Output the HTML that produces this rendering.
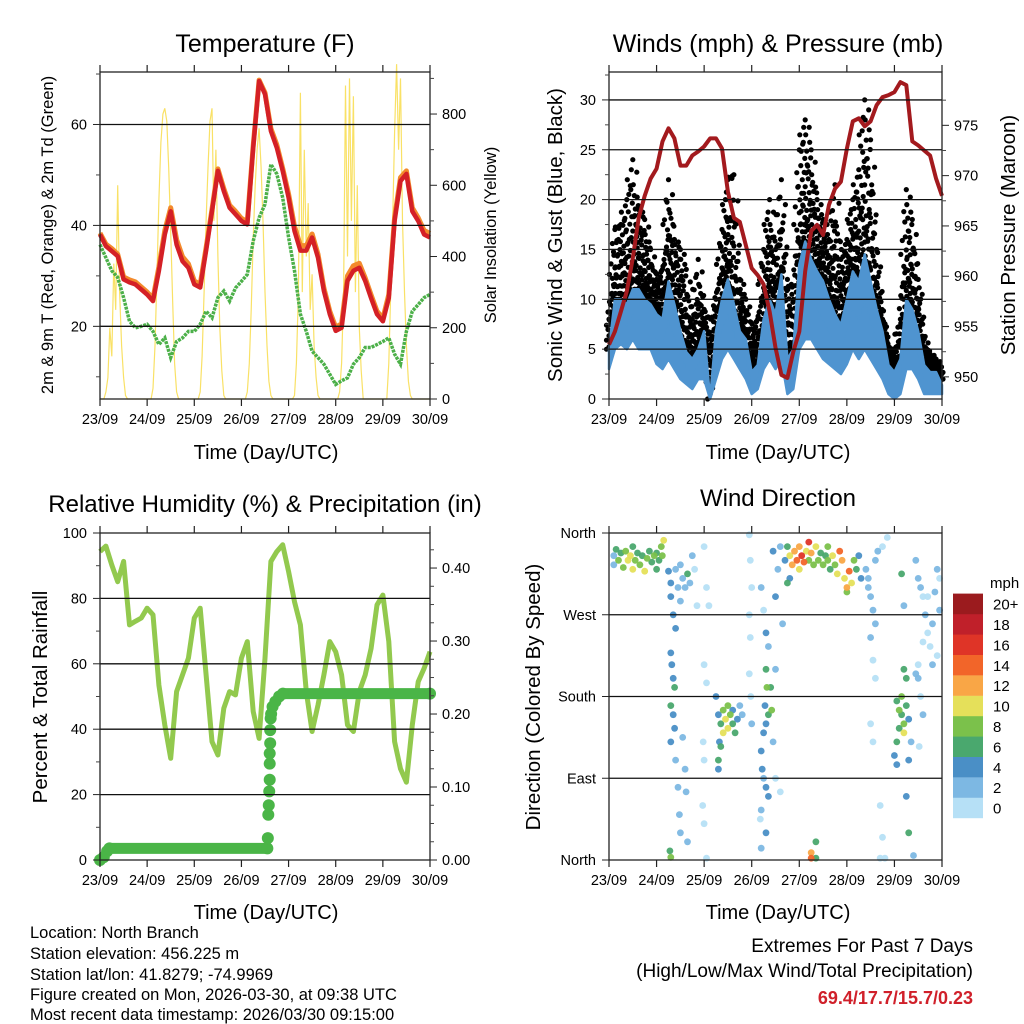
<!DOCTYPE html>
<html><head><meta charset="utf-8"><style>
body{margin:0;background:#fff;}
svg{display:block;font-family:"Liberation Sans",Arial,sans-serif;}
</style></head><body>
<svg id="svg" width="1024" height="1024" viewBox="0 0 1024 1024" xmlns="http://www.w3.org/2000/svg">
<rect width="1024" height="1024" fill="#fff"/>
<g id="layer"></g>
<text x="265" y="52" font-size="25" text-anchor="middle">Temperature (F)</text>
<text x="778" y="52" font-size="25" text-anchor="middle">Winds (mph) &amp; Pressure (mb)</text>
<text x="265" y="512" font-size="24" text-anchor="middle">Relative Humidity (%) &amp; Precipitation (in)</text>
<text x="778" y="506" font-size="24" text-anchor="middle">Wind Direction</text>
<text x="266" y="459" font-size="20" text-anchor="middle">Time (Day/UTC)</text>
<text x="778" y="459" font-size="20" text-anchor="middle">Time (Day/UTC)</text>
<text x="266" y="919" font-size="20" text-anchor="middle">Time (Day/UTC)</text>
<text x="778" y="919" font-size="20" text-anchor="middle">Time (Day/UTC)</text>
<text transform="translate(53,235) rotate(-90)" font-size="16.5" text-anchor="middle">2m &amp; 9m T (Red, Orange) &amp; 2m Td (Green)</text>
<text transform="translate(496,235) rotate(-90)" font-size="16.5" text-anchor="middle">Solar Insolation (Yellow)</text>
<text transform="translate(562,235) rotate(-90)" font-size="20.5" text-anchor="middle">Sonic Wind &amp; Gust (Blue, Black)</text>
<text transform="translate(1015,235) rotate(-90)" font-size="20.5" text-anchor="middle">Station Pressure (Maroon)</text>
<text transform="translate(47,697) rotate(-90)" font-size="20.5" text-anchor="middle">Percent &amp; Total Rainfall</text>
<text transform="translate(540,697) rotate(-90)" font-size="20.5" text-anchor="middle">Direction (Colored By Speed)</text>
<g font-size="16.5">
<text x="30" y="938">Location: North Branch</text>
<text x="30" y="959">Station elevation: 456.225 m</text>
<text x="30" y="980">Station lat/lon: 41.8279; -74.9969</text>
<text x="30" y="1000">Figure created on Mon, 2026-03-30, at 09:38 UTC</text>
<text x="30" y="1020">Most recent data timestamp: 2026/03/30 09:15:00</text>
</g>
<g font-size="19" text-anchor="end">
<text x="973" y="952">Extremes For Past 7 Days</text>
<text x="973" y="977">(High/Low/Max Wind/Total Precipitation)</text>
<text x="973" y="1004" fill="#d0202a" font-weight="bold" font-size="18">69.4/17.7/15.7/0.23</text>
</g>
</svg>
<script>
// ---- time axis ----
const dayLabels = ["23/09","24/09","25/09","26/09","27/09","28/09","29/09","30/09"];
const stepDays = 0.125; // 3-hour samples starting 23/09 00 UTC
// ---- temperature panel ----
const tempRed = [38.2,35.9,34.9,33.9,29.3,28.7,28.3,27.3,26.3,25, 31,38.2,42.8,36.2,32.9,31.6,28.3,27.7,35,42.8, 50.8,46.8,43.5,42.2,40.9,40.2,55.4,68.6,66,58.7, 55.4,50.8,45.5,38.9,35,35,37.6,33.6,27,22.4, 19.1,19.7,29,31,31.6,29,25.6,22.4,21,25.6, 40.9,48.8,50.2,42.8,40.9,38.2,37.6];
const tempOrange = [38.5,36.3,35.4,34.3,29.8,29.2,28.8,27.8,26.8,25.5, 31.8,39,43.5,37.2,33.8,32.4,29,28.3,35.6,43.2, 51.2,47.3,44,42.8,41.4,40.7,55.8,68.8,66.3,59.2, 56,51.3,46.2,39.8,36,36,38.3,34.3,27.6,23, 19.8,20.5,30,32,32.5,29.6,26.2,23,21.6,26.3, 41.6,49.5,50.8,43.5,41.5,39,38.4];
const dewPoint = [36.2,33.6,31,29.7,25.7,21,19.7,20,20.4,19, 16.4,17.7,13.8,17,17.7,19,19,20.4,23,21.7, 25.7,27,25,27.6,28.9,30.3,36.9,41.5,44.2,52.1, 50.2,45.5,37.6,31,22.4,19,15.1,13.8,12.5,10.5, 8.5,9.2,9.8,12.5,13.8,15.8,15.8,16.4,17,17.7, 14.5,12.5,19,23,24.3,25.7,26.3];
const solarDay23 = [0,0,0,20,60,200,120,380,250,600,300,150,60,10,0,0,0,0,0,0,0,0,0,0];
const solarDay24 = [0,0,0,30,150,350,560,720,800,816,780,650,470,270,100,20,0,0,0,0,0,0,0,0];
const solarDay25 = [0,0,0,20,120,300,500,650,780,816,500,700,400,200,80,10,0,0,0,0,0,0,0,0];
const solarDay26 = [0,0,0,20,100,250,450,600,700,760,650,500,300,150,50,10,0,0,0,0,0,0,0,0];
const solarDay27 = [0,0,0,10,100,300,860,300,700,400,550,250,350,150,60,10,0,0,0,0,0,0,0,0];
const solarDay28 = [0,0,20,100,300,880,400,900,500,850,300,600,200,80,0,0,0,0,0,0,0,0,0,0];
const solarDay29 = [0,0,0,100,300,500,750,940,700,900,500,300,150,50,10,0,0,0,0,0,0,0,0,0];
const solarDay30 = [0];
// ---- wind panel ----
const windHigh = [5,10,10,9.5,11,11,10,9.5,8.5,8, 11.8,9.5,6.8,4.7,4,5,6.8,0,6.8,10, 12,9.5,6.8,6,2.7,3.4,8,10,8.5,12.5, 4,5,13.5,15.8,14,12.8,11.8,10,8.5,7.4, 10,12.8,11.8,14.5,11.8,9,6.8,3.4,2.7,4, 10,9,6.8,3.4,2.7,2.7,1.4];
const windLow = [3,5,5.5,5,6,5,5,5,3.5,3, 4,3,2,1.5,1,2,2,0,2,4, 5,4,3,2,0.5,1,3,4,3,4, 0.5,1,5,6,6,5,4,3.5,3,2.5, 3.5,5,4,5,4,3,2,0.5,0,0.5, 3,3,2,0.5,0.5,0.5,0.5];
const gustMax = [8,17,17.5,20,24,19,18,15,12,13, 22,16,15,13,8,14,9,6,10,17, 22,22.5,12,10,7,8,15,20,15,22, 12,10,25,28,25,20,18,16,21.5,14, 16,20,23,30,26,15,8,5,5,8, 21,18,12,6,4.5,4,3];
const pressure = [953.2,954.5,956.5,958.5,961.8,965.8,968,969.7,970.7,973.4, 974.7,973.7,971,971,972,972.4,972.9,973.7,973.7,972.7, 968.4,965.8,965.4,963.1,960.8,960.1,959.2,956.5,952.9,950.2, 949.9,952.5,954.5,960.5,964.5,965.1,964.1,967.1,968.7,969.4, 972.7,975.4,975.7,974.9,975.4,977,977.8,978,978.3,979.3, 979,973.4,973,972.5,972,969.7,968];
// ---- humidity panel ----
const relHum = [94.3,96,90.2,85.1,91.3,71.9,73,74,77,75, 53.5,41.3,31.1,51.5,56.6,61.7,74,77,56.6,36.2, 32.1,46.4,51.5,50.5,61.7,66.8,45.4,37.2,61.7,91.3, 94.3,96.4,88.2,79,71.9,51.5,39.3,47.4,56.6,66.8, 63.7,56.6,41.3,39.3,51.5,56.6,64.7,78,81,66.8, 36.2,27.9,23.8,41.3,54.5,58.6,63.7];
const precipTimes = [23.0,23.08,23.15,23.2,26.55,26.56,26.57,26.58,26.59,26.6,26.6,26.6,26.61,26.61,26.62,26.63,26.66,26.72,26.8,26.88,30.0];
const precipValues = [0,0.004,0.012,0.016,0.016,0.03,0.062,0.075,0.094,0.11,0.132,0.146,0.16,0.178,0.194,0.2,0.21,0.217,0.224,0.228,0.228];
// ---- wind direction panel ----
const dirTimes = [23.1,23.1,23.15,23.2,23.25,23.3,23.35,23.4,23.45,23.5,23.5,23.55,23.6,23.65,23.7,23.75,23.8,23.85,23.9,23.95,24.0,24.05,24.1,24.15,24.12,24.0,
24.25,24.3,24.3,24.35,24.4,24.45,24.5,24.55,24.6,24.65,24.7,24.75,24.8,24.85,24.5,24.4,24.3,24.32,24.35,24.38,24.3,24.35,24.38,24.3,24.4,24.45,24.48,24.5,24.28,24.3,24.55,24.6,24.62,24.65,
25.0,25.05,25.1,25.0,25.05,24.98,25.0,24.97,25.0,25.05,
25.25,25.3,25.35,25.4,25.45,25.5,25.55,25.6,25.65,25.7,25.5,25.4,25.35,25.3,25.32,25.6,25.75,25.8,25.3,
25.95,25.97,26.0,25.95,25.97,25.95,25.98,26.0,
26.2,26.25,26.3,26.35,26.3,26.32,26.28,26.35,26.3,26.25,26.2,26.22,26.25,26.3,26.35,26.2,26.18,26.3,26.2,26.4,26.42,26.45,26.5,26.5,26.6,26.55,26.5,26.45,26.6,26.65,
26.7,26.75,26.8,26.85,26.9,26.95,27.0,27.05,27.1,27.15,27.2,27.25,27.3,27.35,27.4,27.45,27.5,27.55,27.6,27.65,27.7,27.75,27.8,27.85,27.9,27.95,28.0,28.05,28.1,28.0,28.15,28.2,28.25,28.3,27.0,27.2,27.6,26.75,26.8,27.35,27.25,27.25,27.35,
28.4,28.45,28.5,28.55,28.6,28.5,28.45,28.6,28.65,28.55,28.6,28.5,28.55,28.75,28.7,28.75,28.7,28.8,28.85,
29.05,29.1,29.15,29.2,29.25,29.1,29.2,29.15,29.05,29.0,29.05,29.25,29.3,29.35,29.3,29.2,29.25,29.3,29.4,29.15,29.2,
29.45,29.5,29.55,29.6,29.65,29.7,29.75,29.8,29.85,29.9,29.95,29.6,29.7,29.8,29.9,29.95,29.5,29.55,29.6,29.45,29.52,29.5];
const dirValues = [335,325,342,330,338,322,340,330,335,320,345,330,338,325,335,318,332,340,328,335,338,330,345,352,335,320,
318,305,290,270,320,300,325,310,300,315,305,335,320,280,285,255,228,215,200,190,170,160,145,130,110,80,50,30,10,3,135,100,75,20,
345,300,280,215,195,130,110,60,40,2,
180,160,150,165,155,145,160,150,140,155,170,140,125,110,130,165,170,160,100,
358,330,300,270,245,205,180,150,
300,275,250,235,210,190,170,160,150,140,120,100,90,80,70,55,45,30,13,190,165,130,90,210,345,320,290,340,75,260,
330,345,335,325,340,330,345,335,328,340,350,338,325,345,330,338,325,335,330,320,335,325,315,340,330,310,300,318,305,295,330,320,335,310,320,330,345,305,310,20,2,8,2,
320,300,290,275,260,245,310,330,340,220,200,150,130,345,60,25,2,2,355,
175,165,160,150,170,145,140,180,130,115,105,200,155,130,110,210,70,30,5,315,280,
330,310,300,290,270,250,235,215,295,320,310,240,290,260,225,275,200,180,160,205,125,215];
const dirSpeeds = [3,3,7,8,7,9,8,10,11,10,7,8,7,8,7,10,8,7,6,8,7,6,9,11,8,7,
4,4,4,4,3,2,2,3,2,6,2,2,1,1,2,4,4,4,4,6,6,4,4,4,2,2,2,2,6,8,2,2,2,2,
1,1,1,1,1,0,1,1,0,0,
4,5,6,9,10,10,8,7,6,5,8,11,6,7,4,4,2,2,4,
1,1,1,1,1,1,1,2,
2,1,4,2,6,8,4,6,4,4,4,4,2,4,4,2,1,4,2,6,8,3,1,2,2,3,4,4,1,2,
4,6,10,12,12,14,12,16,14,10,16,12,8,10,8,6,8,6,8,6,10,8,10,14,12,10,12,14,10,8,8,6,4,4,10,8,8,6,4,6,14,12,6,
2,2,2,2,2,2,3,2,2,1,1,1,1,0,1,1,0,0,1,
6,8,7,8,6,6,10,8,6,4,4,6,4,2,4,6,4,6,2,6,2,
2,2,2,1,2,1,1,2,2,2,1,1,1,2,1,2,2,1,2,3,1,1];
const speedColors = ["#b6e0f6","#7db8e3","#4a8fc6","#4aa86e","#7bc14b","#e5e05a","#f9a646","#f26529","#df3427","#c0202a","#9b1b1e"];
const speedLabels = ["0","2","4","6","8","10","12","14","16","18","20+"];

const NS="http://www.w3.org/2000/svg";
const layer=document.getElementById('layer');
function mk(tag,attrs,parent){const e=document.createElementNS(NS,tag);for(const k in attrs)e.setAttribute(k,attrs[k]);(parent||layer).appendChild(e);return e;}
function lin(d0,d1,r0,r1){return v=>r0+(v-d0)/(d1-d0)*(r1-r0);}

function frame(p,name){
  const g=mk('g',{});
  
  
  p.g=g;
  return g;
}
function drawAxes(p,leftTicks,leftMinor,leftFmt,rightTicks,rightMinor,rightFmt,grid){
  const g=p.g;
  grid.forEach(v=>{const y=p.yl(v);const l=mk('line',{x1:p.x0,x2:p.x1,y1:y,y2:y,stroke:'#111','stroke-width':1.3},g);
    
    });
  const bx=mk('rect',{x:p.x0,y:p.y0,width:p.x1-p.x0,height:p.y1-p.y0,fill:'none',stroke:'#222','stroke-width':1.3},g);
  
  
  dayLabels.forEach((lab,i)=>{const x=p.xs(23+i);
    mk('line',{x1:x,x2:x,y1:p.y1,y2:p.y1+7,stroke:'#222','stroke-width':1.2},g);
    mk('line',{x1:x,x2:x,y1:p.y0,y2:p.y0-7,stroke:'#222','stroke-width':1.2},g);
    const t=mk('text',{x:x,y:p.y1+25,'font-size':14.5,'text-anchor':'middle'},g);t.textContent=lab;
    
    });
  leftTicks.forEach((v,i)=>{const y=p.yl(v);mk('line',{x1:p.x0,x2:p.x0-7,y1:y,y2:y,stroke:'#222'},g);
    const t=mk('text',{x:p.x0-13,y:y+5,'font-size':14.5,'text-anchor':'end'},g);t.textContent=leftFmt[i];
    
    });
  leftMinor.forEach(v=>{const y=p.yl(v);mk('line',{x1:p.x0,x2:p.x0-4,y1:y,y2:y,stroke:'#444'},g);});
  if(rightTicks){
    rightTicks.forEach((v,i)=>{const y=p.yr(v);mk('line',{x1:p.x1,x2:p.x1+7,y1:y,y2:y,stroke:'#222'},g);
      const t=mk('text',{x:p.x1+12,y:y+5,'font-size':14.5},g);t.textContent=rightFmt[i];
      
      });
    rightMinor.forEach(v=>{const y=p.yr(v);mk('line',{x1:p.x1,x2:p.x1+4,y1:y,y2:y,stroke:'#444'},g);});
  }
}
function pts(p,arr,ys,t0,step){return arr.map((v,i)=>p.xs(t0+i*step).toFixed(1)+','+ys(v).toFixed(1)).join(' ');}

// ===== Panel 1 =====
const P1={x0:100,x1:430,y0:72,y1:399};
P1.xs=lin(23,30,P1.x0,P1.x1);P1.yl=lin(5.6,70.4,P1.y1,P1.y0);P1.yr=lin(0,918,P1.y1,P1.y0);
const g1=frame(P1,'temperature-panel');
const solar=[].concat(solarDay23,solarDay24,solarDay25,solarDay26,solarDay27,solarDay28,solarDay29,solarDay30);
const sl=mk('polyline',{points:pts(P1,solar,P1.yr,23,1/24),fill:'none',stroke:'#f7d940','stroke-width':1.2,'stroke-opacity':0.8},g1);


const dl=mk('polyline',{points:pts(P1,dewPoint,P1.yl,23,stepDays),fill:'none',stroke:'#4cb049','stroke-width':3.5,'stroke-dasharray':'3 1'},g1);


const ol=mk('polyline',{points:pts(P1,tempOrange,P1.yl,23,stepDays),fill:'none',stroke:'#f38a2c','stroke-width':5,'stroke-linejoin':'round'},g1);


const rl=mk('polyline',{points:pts(P1,tempRed,P1.yl,23,stepDays),fill:'none',stroke:'#d42026','stroke-width':4.5,'stroke-linejoin':'round'},g1);


drawAxes(P1,[20,40,60],[10,30,50,70],["20","40","60"],[0,200,400,600,800],[100,300,500,700,900],["0","200","400","600","800"],[20,40,60]);

// ===== Panel 2 =====
const P2={x0:609,x1:942,y0:72,y1:399};
P2.xs=lin(23,30,P2.x0,P2.x1);P2.yl=lin(0,32.8,P2.y1,P2.y0);P2.yr=lin(947.8,980.3,P2.y1,P2.y0);
const g2=frame(P2,'winds-panel');
const gg=mk('g',{},g2);


const fracs=[0,0.08,0.18,0.3,0.45,0.62,0.8,1];
for(let i=0;i<gustMax.length-1;i++){
  for(let s=0;s<4;s++){
    const a=s/4;const t=23+(i+a)*stepDays;
    const w=windHigh[i]+(windHigh[i+1]-windHigh[i])*a;
    const gm=gustMax[i]+(gustMax[i+1]-gustMax[i])*a;
    fracs.forEach((f,k)=>{
      if(gm<=w)return;
      const v=w+f*(gm-w);
      mk('circle',{cx:(P2.xs(t)+((k+s)%3-1)*2.5).toFixed(1),cy:P2.yl(v).toFixed(1),r:2.6,fill:'#000'},gg);
    });
  }
}
const bandPts=windHigh.map((v,i)=>P2.xs(23+i*stepDays).toFixed(1)+','+P2.yl(v).toFixed(1))
 .concat(windLow.map((v,i)=>P2.xs(23+i*stepDays).toFixed(1)+','+P2.yl(v).toFixed(1)).reverse()).join(' ');
const wb=mk('polygon',{points:bandPts,fill:'#4f94d0',stroke:'#4f94d0','stroke-width':2.5,'stroke-linejoin':'round'},g2);


// jagged edge on the wind band (alternating between low and high envelope)
const zz=[];
for(let i=0;i<windHigh.length-1;i++){
  for(let s=0;s<6;s++){
    const a=s/6;const t=23+(i+a)*stepDays;
    const hi=windHigh[i]+(windHigh[i+1]-windHigh[i])*a;
    const lo=windLow[i]+(windLow[i+1]-windLow[i])*a;
    zz.push(P2.xs(t).toFixed(1)+','+P2.yl(s%2?hi:(hi+lo)/2).toFixed(1));
  }
}
const zl=mk('polyline',{points:zz.join(' '),fill:'none',stroke:'#4f94d0','stroke-width':2},g2);


const pl=mk('polyline',{points:pts(P2,pressure,P2.yr,23,stepDays),fill:'none',stroke:'#a31a1e','stroke-width':4,'stroke-linejoin':'round'},g2);


drawAxes(P2,[0,5,10,15,20,25,30],[2.5,7.5,12.5,17.5,22.5,27.5,32.5],["0","5","10","15","20","25","30"],[950,955,960,965,970,975],[952.5,957.5,962.5,967.5,972.5,977.5],["950","955","960","965","970","975"],[5,10,15,20,25,30]);

// ===== Panel 3 =====
const P3={x0:100,x1:430,y0:533,y1:860};
P3.xs=lin(23,30,P3.x0,P3.x1);P3.yl=lin(0,100,P3.y1,P3.y0);P3.yr=lin(0,0.448,P3.y1,P3.y0);
const g3=frame(P3,'humidity-panel');
const hl=mk('polyline',{points:pts(P3,relHum,P3.yl,23,stepDays),fill:'none',stroke:'#92c94e','stroke-width':5,'stroke-linejoin':'round'},g3);


const pg=mk('g',{},g3);


for(let i=0;i<precipTimes.length-1;i++){
  if(precipValues[i]===precipValues[i+1]){
    mk('line',{x1:P3.xs(precipTimes[i]),x2:P3.xs(precipTimes[i+1]),y1:P3.yr(precipValues[i]),y2:P3.yr(precipValues[i]),stroke:'#4ab547','stroke-width':11,'stroke-linecap':'round'},pg);
  }
}
precipTimes.forEach((t,i)=>{mk('circle',{cx:P3.xs(t),cy:P3.yr(precipValues[i]),r:6,fill:'#4ab547'},pg);});
drawAxes(P3,[0,20,40,60,80,100],[10,30,50,70,90],["0","20","40","60","80","100"],[0,0.1,0.2,0.3,0.4],[0.025,0.05,0.075,0.125,0.15,0.175,0.225,0.25,0.275,0.325,0.35,0.375,0.425],["0.00","0.10","0.20","0.30","0.40"],[20,40,60,80]);

// ===== Panel 4 =====
const P4={x0:609,x1:942,y0:533,y1:860};
P4.xs=lin(23,30,P4.x0,P4.x1);P4.yl=lin(0,360,P4.y1,P4.y0);
const g4=frame(P4,'wind-direction-panel');
const dg=mk('g',{},g4);


const order=dirSpeeds.map((s,i)=>i).sort((a,b)=>dirSpeeds[a]-dirSpeeds[b]);
order.forEach(i=>{const ci=Math.min(10,Math.floor(dirSpeeds[i]/2));
  mk('circle',{cx:P4.xs(dirTimes[i]).toFixed(1),cy:P4.yl(dirValues[i]).toFixed(1),r:3.4,fill:speedColors[ci],'fill-opacity':0.95},dg);});
drawAxes(P4,[0,90,180,270,360],[],["North","East","South","West","North"],null,null,null,[90,180,270]);
// colorbar
const cb=mk('g',{},layer);


const mt=mk('text',{x:990,y:588,'font-size':15},cb);mt.textContent='mph';
speedColors.forEach((c,i)=>{const y=818-(i+1)*20.4;
  mk('rect',{x:953,y:y,width:30,height:20.6,fill:c},cb);
  const t=mk('text',{x:993,y:y+16,'font-size':15},cb);t.textContent=speedLabels[i];
  
  });
</script>
</body></html>
